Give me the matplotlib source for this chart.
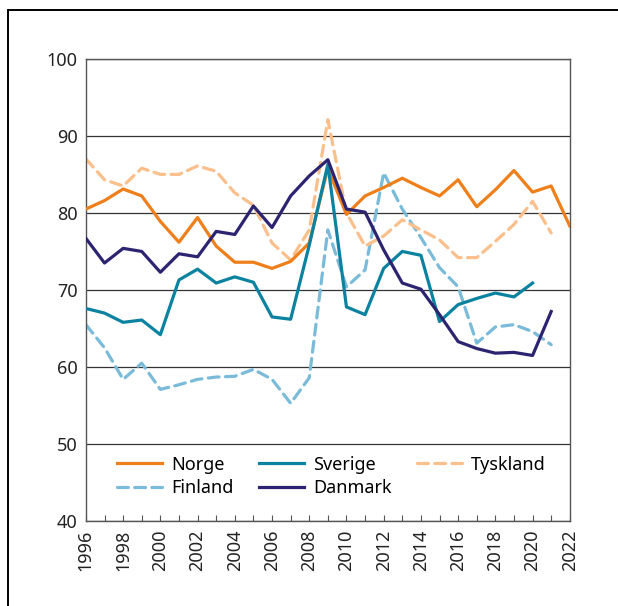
import numpy as np
import matplotlib
matplotlib.use("Agg")
import matplotlib.pyplot as plt
from matplotlib.patches import Rectangle

# verdier lest av figuren
aar = list(range(1996, 2023))

norge = [80.5, 81.6, 83.1, 82.2, 78.9, 76.2, 79.4, 75.7, 73.6, 73.6, 72.8, 73.7, 76.1,
         85.8, 79.8, 82.2, 83.3, 84.5, 83.3, 82.2, 84.3, 80.8, 83.0, 85.5, 82.7, 83.5, 78.3]
sverige = [67.6, 67.0, 65.8, 66.1, 64.2, 71.3, 72.7, 70.9, 71.7, 71.0, 66.5, 66.2, 75.8,
           86.3, 67.8, 66.8, 72.8, 75.0, 74.5, 65.9, 68.1, 68.9, 69.6, 69.1, 70.9]
tyskland = [87.0, 84.3, 83.5, 85.8, 85.0, 85.0, 86.1, 85.4, 82.6, 81.0, 76.1, 73.9, 77.8,
            92.1, 80.0, 75.7, 77.0, 79.1, 77.8, 76.5, 74.2, 74.2, 76.3, 78.5, 81.5, 77.4]
finland = [65.5, 62.5, 58.4, 60.5, 57.1, 57.7, 58.4, 58.7, 58.8, 59.7, 58.4, 55.3, 58.6,
           77.8, 70.4, 72.6, 85.2, 80.5, 76.8, 72.9, 70.4, 63.1, 65.2, 65.5, 64.6, 62.9]
danmark = [76.7, 73.5, 75.4, 75.0, 72.3, 74.7, 74.3, 77.6, 77.2, 80.9, 78.1, 82.2, 84.8,
           86.9, 80.5, 80.1, 75.2, 70.9, 70.1, 66.8, 63.3, 62.4, 61.8, 61.9, 61.5, 67.2]

plt.rcParams['font.family'] = ['Noto Sans', 'DejaVu Sans']

fig = plt.figure(figsize=(6.18, 6.06), dpi=100)
ax = fig.add_axes([0.139, 0.140, 0.783, 0.763])

lw = 2.3
dash = (3.4, 2.0)
ax.plot(aar[:len(norge)], norge, color="#EE7F1A", lw=lw, label="Norge", zorder=3)
ax.plot(aar[:len(finland)], finland, color="#79BBD9", lw=lw, dashes=dash,
        dash_capstyle="round", label="Finland", zorder=2)
ax.plot(aar[:len(sverige)], sverige, color="#0B82A0", lw=lw, label="Sverige", zorder=3)
ax.plot(aar[:len(danmark)], danmark, color="#2C2470", lw=lw, label="Danmark", zorder=4)
ax.plot(aar[:len(tyskland)], tyskland, color="#FBBF8C", lw=lw, dashes=dash,
        dash_capstyle="round", label="Tyskland", zorder=2)

ax.set_xlim(1996, 2022)
ax.set_ylim(40, 100)
ax.set_yticks(range(40, 101, 10))
ax.set_xticks(range(1996, 2023, 2))
ax.set_xticks(range(1996, 2023), minor=True)
ax.tick_params(axis="y", length=0, pad=6, labelsize=13, colors="#222222")
ax.tick_params(axis="x", which="both", direction="in", length=4, width=0.8,
               color="#555555", pad=6, labelsize=13, labelcolor="#222222")
for lab in ax.get_xticklabels():
    lab.set_rotation(90)
ax.grid(axis="y", color="#333333", lw=0.9, zorder=1)
for s in ax.spines.values():
    s.set_color("#555555")
    s.set_linewidth(1.0)

ax.legend(ncol=3, frameon=False, fontsize=13, loc="lower left",
          bbox_to_anchor=(0.064, 0.052), borderpad=0, borderaxespad=0,
          handlelength=2.5, handletextpad=0.5, columnspacing=1.4, labelspacing=0.3)

# ramme rundt figuren
fig.patches.append(Rectangle((8 / 618, -0.1), 1.2, 1 - 10 / 606 + 0.1,
                             transform=fig.transFigure, fill=False,
                             edgecolor="black", lw=1.4))

fig.savefig("out.png", dpi=100)
